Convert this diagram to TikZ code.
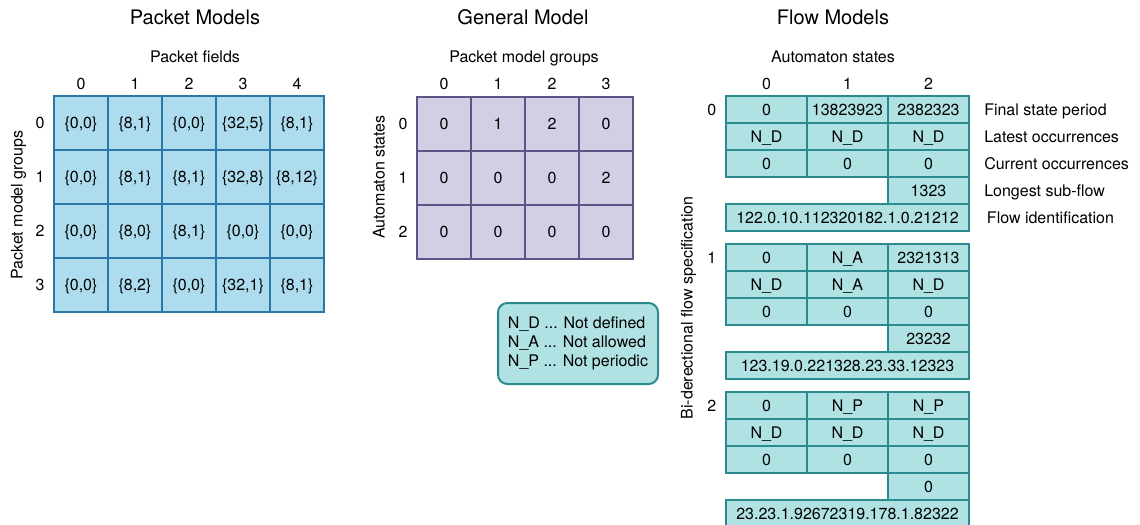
\documentclass[tikz,border=0pt]{standalone}
\usepackage{fontspec}
\setmainfont{TeX Gyre Heros}
\definecolor{pmfill}{HTML}{AEDCEF}
\definecolor{pmline}{HTML}{2B78A4}
\definecolor{gmfill}{HTML}{D2CFE5}
\definecolor{gmline}{HTML}{5A5787}
\definecolor{fmfill}{HTML}{B1E2E3}
\definecolor{fmline}{HTML}{2B8A8D}
\tikzset{
  txt/.style={font=\fontsize{12}{14}\selectfont, inner sep=0pt, text height=8.6pt, text depth=0pt},
  ttl/.style={font=\fontsize{15}{18}\selectfont, inner sep=0pt, text height=10.8pt, text depth=0pt},
  cellbase/.style={txt, outer sep=0pt},
  pcell/.style={cellbase, fill=pmfill, minimum width=40.5pt, minimum height=40.5pt},
  gcell/.style={cellbase, fill=gmfill, minimum width=40.5pt, minimum height=40.5pt},
  fcell/.style={cellbase, fill=fmfill, minimum width=60.75pt, minimum height=20.25pt},
  fwide/.style={fcell, minimum width=182.25pt},
  cellframe/.style={draw=#1, line width=1.5pt},
  legendbox/.style={draw=fmline, fill=fmfill, line width=1.5pt, rounded corners=7pt,
    minimum width=120pt, minimum height=60.75pt, align=left, outer sep=0pt,
    font=\fontsize{12}{14.3}\selectfont, inner sep=0pt}
}
% frame a cell node after all fills are down, so shared edges look even
\newcommand\cellframeof[2]{\draw[cellframe=#2] (#1.north west) rectangle (#1.south east);}
\begin{document}
\begin{tikzpicture}[x=0.75pt, y=-0.75pt]
\useasboundingbox (0,0) rectangle (1140,525);

% ---------------- Packet models ----------------
\node[ttl] (pm-title) at (195,17) {Packet Models};
\node[txt] (pm-xlab) at (195,57) {Packet fields};
\node[txt, rotate=90] (pm-ylab) at (17,205) {Packet model groups};
\foreach \c in {0,...,4}
  \node[txt] (pm-col\c) at ({81+54*\c},84) {\c};
\foreach \r/\vals in {
    0/{{0,0},{8,1},{0,0},{32,5},{8,1}},
    1/{{0,0},{8,1},{8,1},{32,8},{8,12}},
    2/{{0,0},{8,0},{8,1},{0,0},{0,0}},
    3/{{0,0},{8,2},{0,0},{32,1},{8,1}}}{
  \node[txt] (pm-row\r) at (40,{123+54*\r}) {\r};
  \foreach \v [count=\c from 0] in \vals
    \node[pcell] (p-\r-\c) at ({81+54*\c},{123+54*\r}) {\{\v\}};
}
\foreach \r in {0,...,3}{
  \foreach \c in {0,...,4}{\cellframeof{p-\r-\c}{pmline}}
}

% ---------------- General model ----------------
\node[ttl] (gm-title) at (523,17) {General Model};
\node[txt] (gm-xlab) at (524,57) {Packet model groups};
\node[txt, rotate=90] (gm-ylab) at (379,177) {Automaton states};
\foreach \c in {0,...,3}
  \node[txt] (gm-col\c) at ({444+54*\c},84) {\c};
\foreach \r/\vals in {
    0/{0,1,2,0},
    1/{0,0,0,2},
    2/{0,0,0,0}}{
  \node[txt] (gm-row\r) at (403,{124+54*\r}) {\r};
  \foreach \v [count=\c from 0] in \vals
    \node[gcell] (g-\r-\c) at ({444+54*\c},{124+54*\r}) {\v};
}
\foreach \r in {0,...,2}{
  \foreach \c in {0,...,3}{\cellframeof{g-\r-\c}{gmline}}
}

% ---------------- Legend ----------------
\node[legendbox] (legend) at (578,343.5)
  {N\_D ... Not defined\\N\_A ... Not allowed\\N\_P ... Not periodic};

% ---------------- Flow models ----------------
\node[ttl] (fm-title) at (833,17) {Flow Models};
\node[txt] (fm-xlab) at (833,57) {Automaton states};
\node[txt, rotate=90] (fm-ylab) at (687,308) {Bi-derectional flow specification};
\foreach \c in {0,...,2}
  \node[txt] (fm-col\c) at ({766.5+81*\c},84) {\c};
\foreach \b/\ra/\rb/\rc/\sub/\fid in {
    0/{0,13823923,2382323}/{N\_D,N\_D,N\_D}/{0,0,0}/1323/122.0.10.112320182.1.0.21212,
    1/{0,N\_A,2321313}/{N\_D,N\_A,N\_D}/{0,0,0}/23232/123.19.0.221328.23.33.12323,
    2/{0,N\_P,N\_P}/{N\_D,N\_D,N\_D}/{0,0,0}/0/23.23.1.92672319.178.1.82322}{
  \pgfmathsetmacro\fy{96+148*\b}
  \node[txt] (fm-row\b) at (711.7,{\fy+13.5}) {\b};
  \foreach \v [count=\c from 0] in \ra
    \node[fcell] (f\b-0-\c) at ({766.5+81*\c},{\fy+13.5}) {\v};
  \foreach \v [count=\c from 0] in \rb
    \node[fcell] (f\b-1-\c) at ({766.5+81*\c},{\fy+13.5+27}) {\v};
  \foreach \v [count=\c from 0] in \rc
    \node[fcell] (f\b-2-\c) at ({766.5+81*\c},{\fy+13.5+2*27}) {\v};
  \node[fcell] (f\b-3) at (928.5,{\fy+13.5+3*27}) {\sub};
  \node[fwide] (f\b-4) at (847.5,{\fy+13.5+4*27}) {\fid};
  \foreach \r in {0,1,2}{
    \foreach \c in {0,1,2}{\cellframeof{f\b-\r-\c}{fmline}}
  }
  \cellframeof{f\b-3}{fmline}
  \cellframeof{f\b-4}{fmline}
}
\node[txt, anchor=west] (lab-fsp) at (984,109.5) {Final state period};
\node[txt, anchor=west] (lab-lo) at (984,136.5) {Latest occurrences};
\node[txt, anchor=west] (lab-co) at (984,163.5) {Current occurrences};
\node[txt, anchor=west] (lab-ls) at (984,190.5) {Longest sub-flow};
\node[txt, anchor=west] (lab-fi) at (986.7,217.5) {Flow identification};
\end{tikzpicture}
\end{document}
